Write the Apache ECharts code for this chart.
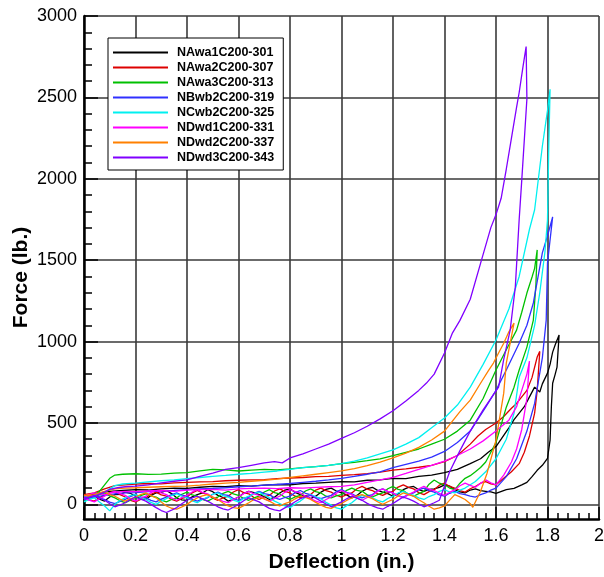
<!DOCTYPE html>
<html><head><meta charset="utf-8">
<script src="https://cdn.jsdelivr.net/npm/echarts@6/dist/echarts.min.js"></script>
<style>html,body{margin:0;padding:0;background:#fff}#c{width:604px;height:577px}</style>
</head><body><div id="c"></div><script>
const names = ['NAwa1C200-301','NAwa2C200-307','NAwa3C200-313','NBwb2C200-319','NCwb2C200-325','NDwd1C200-331','NDwd2C200-337','NDwd3C200-343'];
const colors = ['#000000','#dd0000','#00c000','#3030ff','#00f0f0','#ff00ff','#ff8000','#8000ff'];
const yMajorTicks = [0,500,1000,1500,2000,2500,3000];
const yMinorTicks = [100,200,300,400,600,700,800,900,1100,1200,1300,1400,1600,1700,1800,1900,2100,2200,2300,2400,2600,2700,2800,2900];

const up301 = [[0,45],[0.03,60],[0.06,70],[0.1,80],[0.15,85],[0.2,90],[0.25,88],[0.3,95],[0.35,100],[0.4,98],[0.45,105],[0.5,110],[0.55,108],[0.6,115],[0.65,112],[0.7,118],[0.75,122],[0.8,120],[0.85,128],[0.9,130],[0.95,135],[1.0,140],[1.05,138],[1.1,148],[1.15,150],[1.2,160],[1.25,158],[1.3,172],[1.35,180],[1.4,195],[1.45,215],[1.5,250],[1.54,280],[1.57,320],[1.6,355],[1.62,400],[1.65,470],[1.67,520],[1.69,560],[1.71,600],[1.73,660],[1.75,720],[1.77,690],[1.78,740],[1.8,806],[1.81,860],[1.82,935],[1.83,980],[1.845,1040]];
const low301 = [[0,30],[0.02,48],[0.04,55],[0.06,32],[0.08,20],[0.1,45],[0.12,60],[0.14,62],[0.16,75],[0.18,68],[0.2,50],[0.22,35],[0.24,30],[0.26,55],[0.28,70],[0.3,74],[0.32,85],[0.34,66],[0.36,40],[0.38,28],[0.4,25],[0.42,46],[0.44,60],[0.46,70],[0.48,90],[0.5,78],[0.52,55],[0.54,42],[0.56,20],[0.58,30],[0.6,45],[0.62,68],[0.64,80],[0.66,72],[0.68,60],[0.7,48],[0.72,30],[0.74,44],[0.76,70],[0.78,88],[0.8,95],[0.82,74],[0.84,60],[0.86,52],[0.88,35],[0.9,50],[0.92,75],[0.94,92],[0.96,100],[0.98,82],[1.0,70],[1.02,58],[1.04,40],[1.06,55],[1.08,80],[1.1,96],[1.12,105],[1.14,86],[1.16,75],[1.18,66],[1.2,50],[1.22,64],[1.24,90],[1.26,104],[1.28,110],[1.3,90],[1.32,80],[1.34,92],[1.36,95],[1.38,104],[1.4,120],[1.42,112],[1.44,90],[1.46,76],[1.48,70],[1.5,88],[1.52,95],[1.54,84],[1.56,80],[1.58,76],[1.6,68],[1.64,90],[1.67,98],[1.7,120],[1.72,135],[1.74,170],[1.76,209],[1.78,240],[1.8,283],[1.81,394],[1.815,600],[1.82,744],[1.83,800],[1.837,843],[1.845,1040]];

const up307 = [[0,60],[0.04,70],[0.08,95],[0.12,115],[0.16,120],[0.2,125],[0.25,128],[0.3,126],[0.35,132],[0.4,135],[0.45,138],[0.5,140],[0.55,145],[0.6,148],[0.65,150],[0.7,152],[0.75,158],[0.8,162],[0.85,165],[0.9,170],[0.95,172],[1.0,178],[1.05,182],[1.1,188],[1.15,198],[1.2,210],[1.25,218],[1.3,228],[1.35,240],[1.4,262],[1.45,300],[1.5,370],[1.53,420],[1.56,460],[1.6,500],[1.63,540],[1.66,590],[1.68,620],[1.7,660],[1.72,700],[1.74,780],[1.76,905],[1.77,940]];
const low307 = [[0,40],[0.02,28],[0.04,20],[0.06,42],[0.08,55],[0.1,72],[0.12,80],[0.14,60],[0.16,45],[0.18,24],[0.2,15],[0.22,30],[0.24,40],[0.26,62],[0.28,75],[0.3,58],[0.32,50],[0.34,30],[0.36,20],[0.38,36],[0.4,45],[0.42,70],[0.44,85],[0.46,70],[0.48,60],[0.5,38],[0.52,25],[0.54,40],[0.56,50],[0.58,76],[0.6,90],[0.62,72],[0.64,65],[0.66,42],[0.68,30],[0.7,46],[0.72,55],[0.74,82],[0.76,95],[0.78,80],[0.8,70],[0.82,50],[0.84,40],[0.86,52],[0.88,60],[0.9,88],[0.92,100],[0.94,84],[0.96,75],[0.98,56],[1.0,45],[1.02,60],[1.04,70],[1.06,96],[1.08,110],[1.1,94],[1.12,85],[1.14,66],[1.16,55],[1.18,70],[1.2,80],[1.22,106],[1.24,120],[1.26,104],[1.28,95],[1.3,72],[1.32,60],[1.34,78],[1.36,90],[1.38,118],[1.4,130],[1.42,110],[1.44,100],[1.46,84],[1.48,75],[1.5,96],[1.52,110],[1.54,130],[1.56,140],[1.58,126],[1.6,120],[1.63,160],[1.66,200],[1.69,250],[1.71,320],[1.73,420],[1.75,560],[1.76,700],[1.77,940]];

const up313 = [[0,40],[0.03,50],[0.06,80],[0.08,120],[0.1,160],[0.12,180],[0.15,185],[0.2,188],[0.25,184],[0.3,186],[0.35,192],[0.4,195],[0.45,205],[0.5,215],[0.55,212],[0.6,205],[0.65,210],[0.7,215],[0.75,212],[0.8,218],[0.85,225],[0.9,232],[0.95,240],[1.0,250],[1.05,258],[1.1,268],[1.15,280],[1.2,300],[1.25,320],[1.3,340],[1.35,370],[1.4,400],[1.45,450],[1.5,517],[1.55,650],[1.6,825],[1.64,950],[1.68,1070],[1.7,1180],[1.72,1298],[1.74,1397],[1.75,1450],[1.76,1563]];
const low313 = [[0,20],[0.02,36],[0.04,45],[0.06,60],[0.08,70],[0.1,52],[0.12,40],[0.14,22],[0.16,10],[0.18,26],[0.2,35],[0.22,54],[0.24,65],[0.26,52],[0.28,45],[0.3,26],[0.32,15],[0.34,30],[0.36,40],[0.38,62],[0.4,75],[0.42,58],[0.44,50],[0.46,30],[0.48,20],[0.5,36],[0.52,45],[0.54,68],[0.56,80],[0.58,64],[0.6,55],[0.62,36],[0.64,25],[0.66,40],[0.68,50],[0.7,76],[0.72,90],[0.74,72],[0.76,65],[0.78,44],[0.8,30],[0.82,46],[0.84,55],[0.86,82],[0.88,95],[0.9,78],[0.92,70],[0.94,50],[0.96,40],[0.98,52],[1.0,60],[1.02,86],[1.04,100],[1.06,86],[1.08,80],[1.1,58],[1.12,45],[1.14,60],[1.16,70],[1.18,96],[1.2,110],[1.22,92],[1.24,85],[1.26,62],[1.28,50],[1.3,66],[1.32,80],[1.34,124],[1.36,150],[1.38,130],[1.4,120],[1.42,100],[1.44,90],[1.46,130],[1.48,160],[1.5,176],[1.52,200],[1.54,226],[1.56,260],[1.6,380],[1.64,597],[1.67,720],[1.69,825],[1.72,966],[1.745,1132],[1.755,1350],[1.76,1563]];

const up319 = [[0,35],[0.04,45],[0.08,55],[0.12,65],[0.16,70],[0.2,72],[0.25,78],[0.3,82],[0.35,85],[0.4,90],[0.45,95],[0.5,98],[0.55,102],[0.6,108],[0.65,112],[0.7,118],[0.75,122],[0.8,128],[0.85,135],[0.9,142],[0.95,150],[1.0,160],[1.05,172],[1.1,185],[1.15,200],[1.2,225],[1.25,245],[1.3,265],[1.35,290],[1.4,325],[1.45,380],[1.5,450],[1.56,597],[1.6,700],[1.64,825],[1.69,990],[1.72,1100],[1.745,1237],[1.78,1545],[1.8,1650],[1.82,1766]];
const low319 = [[0,25],[0.02,40],[0.04,50],[0.06,38],[0.08,30],[0.1,14],[0.12,5],[0.14,18],[0.16,30],[0.18,48],[0.2,60],[0.22,46],[0.24,40],[0.26,24],[0.28,15],[0.3,32],[0.32,45],[0.34,60],[0.36,70],[0.38,56],[0.4,50],[0.42,30],[0.44,20],[0.46,32],[0.48,40],[0.5,62],[0.52,75],[0.54,60],[0.56,55],[0.58,36],[0.6,25],[0.62,38],[0.64,45],[0.66,68],[0.68,80],[0.7,66],[0.72,60],[0.74,40],[0.76,30],[0.78,42],[0.8,50],[0.82,72],[0.84,85],[0.86,68],[0.88,60],[0.9,44],[0.92,35],[0.94,46],[0.96,55],[0.98,78],[1.0,90],[1.02,74],[1.04,65],[1.06,48],[1.08,40],[1.1,52],[1.12,60],[1.14,84],[1.16,95],[1.18,78],[1.2,70],[1.22,52],[1.24,45],[1.26,60],[1.28,70],[1.3,90],[1.32,100],[1.34,84],[1.36,75],[1.38,58],[1.4,50],[1.42,68],[1.44,80],[1.46,66],[1.48,60],[1.5,50],[1.52,45],[1.54,60],[1.56,70],[1.58,88],[1.6,100],[1.64,170],[1.68,280],[1.72,450],[1.75,620],[1.78,900],[1.795,1132],[1.8,1483],[1.82,1766]];

const up325 = [[0,45],[0.04,55],[0.08,75],[0.1,95],[0.12,115],[0.15,125],[0.2,130],[0.25,138],[0.3,145],[0.35,150],[0.4,158],[0.45,165],[0.5,172],[0.55,178],[0.6,185],[0.65,190],[0.7,198],[0.75,205],[0.8,215],[0.85,225],[0.9,232],[0.95,240],[1.0,250],[1.05,265],[1.1,285],[1.15,310],[1.2,335],[1.25,370],[1.3,410],[1.35,470],[1.4,530],[1.45,610],[1.5,720],[1.55,860],[1.6,1010],[1.65,1200],[1.69,1400],[1.73,1690],[1.75,1810],[1.78,2200],[1.8,2420],[1.81,2550]];
const low325 = [[0,15],[0.02,30],[0.04,40],[0.06,14],[0.08,-10],[0.1,-40],[0.12,0],[0.14,24],[0.16,40],[0.18,54],[0.2,60],[0.22,42],[0.24,30],[0.26,12],[0.28,0],[0.3,20],[0.32,35],[0.34,54],[0.36,65],[0.38,50],[0.4,40],[0.42,22],[0.44,10],[0.46,30],[0.48,45],[0.5,62],[0.52,70],[0.54,54],[0.56,45],[0.58,26],[0.6,15],[0.62,36],[0.64,50],[0.66,66],[0.68,75],[0.7,56],[0.72,40],[0.74,20],[0.76,5],[0.78,-10],[0.8,-20],[0.82,2],[0.84,20],[0.86,44],[0.88,60],[0.9,46],[0.92,35],[0.94,12],[0.96,-5],[0.98,-22],[1.0,-30],[1.02,-8],[1.04,10],[1.06,36],[1.08,55],[1.1,46],[1.12,40],[1.14,24],[1.16,15],[1.18,36],[1.2,50],[1.22,70],[1.24,80],[1.26,64],[1.28,55],[1.3,40],[1.32,30],[1.34,48],[1.36,60],[1.38,80],[1.4,90],[1.42,76],[1.44,70],[1.46,88],[1.48,100],[1.5,120],[1.52,140],[1.56,200],[1.6,280],[1.64,400],[1.67,560],[1.69,781],[1.72,900],[1.75,1100],[1.77,1300],[1.79,1550],[1.8,1748],[1.805,2200],[1.81,2550]];

const up331 = [[0,50],[0.04,70],[0.08,60],[0.12,75],[0.16,80],[0.2,78],[0.25,82],[0.3,85],[0.35,80],[0.4,88],[0.45,90],[0.5,92],[0.55,88],[0.6,95],[0.65,98],[0.7,100],[0.75,96],[0.8,102],[0.85,100],[0.9,104],[0.95,108],[1.0,110],[1.05,120],[1.1,135],[1.15,150],[1.2,166],[1.25,190],[1.3,215],[1.35,240],[1.4,265],[1.45,300],[1.5,340],[1.55,390],[1.6,450],[1.65,517],[1.68,600],[1.7,700],[1.72,800],[1.73,880]];
const low331 = [[0,40],[0.02,26],[0.04,15],[0.06,34],[0.08,50],[0.1,70],[0.12,80],[0.14,66],[0.16,55],[0.18,34],[0.2,20],[0.22,36],[0.24,50],[0.26,72],[0.28,85],[0.3,70],[0.32,60],[0.34,40],[0.36,25],[0.38,42],[0.4,55],[0.42,76],[0.44,90],[0.46,74],[0.48,65],[0.5,44],[0.52,30],[0.54,18],[0.56,10],[0.58,30],[0.6,45],[0.62,66],[0.64,80],[0.66,64],[0.68,55],[0.7,34],[0.72,20],[0.74,36],[0.76,50],[0.78,74],[0.8,90],[0.82,78],[0.84,70],[0.86,50],[0.88,35],[0.9,20],[0.92,10],[0.94,30],[0.96,45],[0.98,68],[1.0,85],[1.02,70],[1.04,60],[1.06,40],[1.08,25],[1.1,42],[1.12,55],[1.14,80],[1.16,95],[1.18,80],[1.2,70],[1.22,52],[1.24,40],[1.26,60],[1.28,75],[1.3,96],[1.32,110],[1.34,94],[1.36,85],[1.38,68],[1.4,55],[1.42,74],[1.44,90],[1.46,114],[1.48,130],[1.5,116],[1.52,105],[1.54,130],[1.56,150],[1.58,132],[1.6,120],[1.63,180],[1.66,260],[1.68,340],[1.7,460],[1.72,650],[1.73,880]];

const up337 = [[0,55],[0.04,60],[0.08,80],[0.12,95],[0.16,100],[0.2,102],[0.25,105],[0.3,108],[0.35,110],[0.4,112],[0.45,118],[0.5,125],[0.55,130],[0.6,135],[0.65,142],[0.7,148],[0.75,155],[0.8,165],[0.85,175],[0.9,185],[0.95,195],[1.0,205],[1.05,220],[1.1,238],[1.15,260],[1.2,285],[1.25,315],[1.3,350],[1.35,395],[1.4,450],[1.43,510],[1.46,570],[1.5,640],[1.54,744],[1.57,820],[1.59,868],[1.61,930],[1.63,990],[1.65,1060],[1.67,1113]];
const low337 = [[0,35],[0.02,50],[0.04,60],[0.06,70],[0.08,75],[0.1,60],[0.12,50],[0.14,32],[0.16,20],[0.18,34],[0.2,45],[0.22,60],[0.24,70],[0.26,54],[0.28,40],[0.3,14],[0.32,-10],[0.34,-24],[0.36,-30],[0.38,-16],[0.4,0],[0.42,22],[0.44,40],[0.46,52],[0.48,60],[0.5,44],[0.52,30],[0.54,8],[0.56,-10],[0.58,-20],[0.6,-25],[0.62,-8],[0.64,10],[0.66,30],[0.68,45],[0.7,34],[0.72,20],[0.74,2],[0.76,-10],[0.78,4],[0.8,15],[0.82,34],[0.84,50],[0.86,42],[0.88,30],[0.9,12],[0.92,-5],[0.94,-18],[0.96,-25],[0.98,-8],[1.0,5],[1.02,24],[1.04,40],[1.06,52],[1.08,60],[1.1,48],[1.12,35],[1.14,16],[1.16,0],[1.18,16],[1.2,30],[1.22,52],[1.24,70],[1.26,60],[1.28,50],[1.3,28],[1.32,10],[1.34,-12],[1.36,-30],[1.38,-22],[1.4,-10],[1.42,26],[1.44,60],[1.46,46],[1.48,30],[1.5,4],[1.51,-18],[1.54,80],[1.565,190],[1.6,394],[1.63,683],[1.64,868],[1.655,990],[1.67,1113]];

const up343 = [[0,40],[0.04,50],[0.08,75],[0.1,92],[0.13,102],[0.16,108],[0.2,112],[0.25,120],[0.3,132],[0.35,142],[0.4,150],[0.45,172],[0.5,192],[0.55,215],[0.6,225],[0.65,240],[0.7,255],[0.74,262],[0.77,255],[0.8,285],[0.85,310],[0.9,340],[0.95,370],[1.0,405],[1.05,440],[1.1,480],[1.15,525],[1.2,575],[1.25,635],[1.3,700],[1.33,745],[1.36,800],[1.4,930],[1.43,1050],[1.46,1130],[1.5,1260],[1.54,1480],[1.58,1700],[1.6,1780],[1.62,1880],[1.64,2060],[1.66,2250],[1.68,2440],[1.69,2530],[1.705,2690],[1.717,2812]];
const low343 = [[0,30],[0.02,44],[0.04,55],[0.06,40],[0.08,25],[0.1,4],[0.12,-15],[0.14,-4],[0.16,10],[0.18,30],[0.2,45],[0.22,32],[0.24,20],[0.26,0],[0.28,-20],[0.3,-38],[0.32,-50],[0.34,-36],[0.36,-20],[0.38,4],[0.4,25],[0.42,40],[0.44,50],[0.46,34],[0.48,20],[0.5,2],[0.52,-15],[0.54,-28],[0.56,-35],[0.58,-18],[0.6,0],[0.62,22],[0.64,40],[0.66,28],[0.68,15],[0.7,-6],[0.72,-25],[0.74,-34],[0.76,-40],[0.78,-22],[0.8,-5],[0.82,16],[0.84,35],[0.86,46],[0.88,55],[0.9,38],[0.92,20],[0.94,2],[0.96,-15],[0.98,0],[1.0,15],[1.02,34],[1.04,50],[1.06,38],[1.08,25],[1.1,6],[1.12,-10],[1.14,-22],[1.16,-30],[1.18,-12],[1.2,5],[1.22,26],[1.24,45],[1.26,34],[1.28,20],[1.3,2],[1.32,-15],[1.34,-4],[1.36,10],[1.38,25],[1.42,200],[1.46,330],[1.5,450],[1.55,580],[1.61,720],[1.63,890],[1.655,1070],[1.675,1335],[1.69,1750],[1.7,1990],[1.72,2490],[1.717,2812]];

const ups = [up301, up307, up313, up319, up325, up331, up337, up343];
const lows = [low301, low307, low313, low319, low325, low331, low337, low343];

const FONT = 'Liberation Sans, Arial, sans-serif';
const chart = echarts.init(document.getElementById('c'), null, {renderer: 'canvas'});
chart.setOption({
  animation: false,
  backgroundColor: '#ffffff',
  grid: {left: 84, top: 16, right: 5, bottom: 58, containLabel: false, outerBoundsMode: 'none'},
  legend: {
    orient: 'vertical', left: 108, top: 38,
    backgroundColor: '#fff', borderColor: '#000', borderWidth: 1,
    padding: [8, 9, 6, 5], itemWidth: 55, itemHeight: 2, itemGap: 2, icon: 'rect',
    textStyle: {fontFamily: FONT, fontSize: 12.5, fontWeight: 'bold', color: '#000', lineHeight: 13, padding: [0,0,0,4]},
    data: names
  },
  xAxis: {
    type: 'value', min: 0, max: 2, interval: 0.2,
    name: 'Deflection (in.)', nameLocation: 'middle', nameGap: 33, nameMoveOverlap: false,
    nameTextStyle: {fontFamily: FONT, fontSize: 21, fontWeight: 'bold', color: '#000'},
    axisLine: {show: true, onZero: false, lineStyle: {color: '#000', width: 2.5}},
    axisTick: {show: true, inside: true, length: 12, lineStyle: {color: '#000', width: 1.5}},
    minorTick: {show: true, splitNumber: 5, length: 6, lineStyle: {color: '#000', width: 1.5}},
    splitLine: {show: true, lineStyle: {color: '#3a3a3a', width: 1.6}},
    axisLabel: {fontFamily: FONT, fontSize: 18, color: '#000', margin: 8, formatter: v => String(v)}
  },
  yAxis: [{
    type: 'value', min: -90, max: 3000,
    name: 'Force (lb.)', nameLocation: 'middle', nameGap: 52, nameMoveOverlap: false,
    nameTextStyle: {fontFamily: FONT, fontSize: 21, fontWeight: 'bold', color: '#000', padding: [0, 20, 0, 0]},
    axisLine: {show: true, onZero: false, lineStyle: {color: '#000', width: 2.5}},
    axisTick: {show: true, inside: true, length: 14, customValues: yMajorTicks, lineStyle: {color: '#000', width: 1.5}},
    splitLine: {show: true, lineStyle: {color: '#3a3a3a', width: 1.6}},
    axisLabel: {fontFamily: FONT, fontSize: 18, color: '#000', margin: 7, customValues: yMajorTicks, formatter: v => String(v)}
  }, {
    type: 'value', min: -90, max: 3000, position: 'left',
    axisLine: {show: false},
    axisTick: {show: true, inside: true, length: 8, customValues: yMinorTicks, lineStyle: {color: '#000', width: 1.5}},
    splitLine: {show: false},
    axisLabel: {show: false}
  }],
  series: names.map((n, i) => ({
    name: n, type: 'line', yAxisIndex: 0,
    data: ups[i].concat(lows[i].slice().reverse()),
    showSymbol: false, symbol: 'none', clip: true,
    color: colors[i],
    lineStyle: {color: colors[i], width: 1.3}
  }))
});
</script></body></html>
